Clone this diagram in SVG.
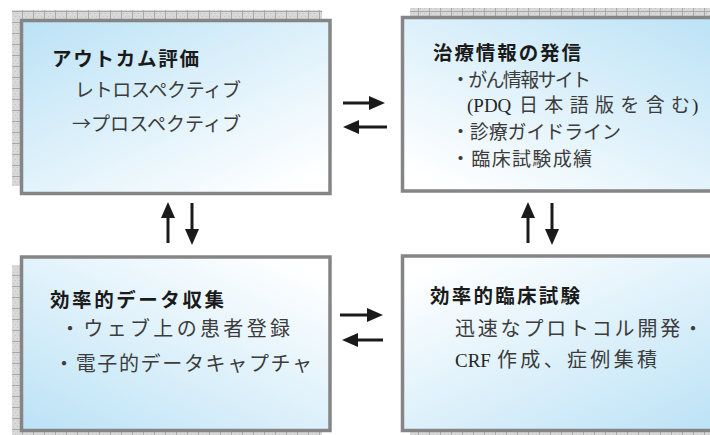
<svg xmlns="http://www.w3.org/2000/svg" width="710" height="435" viewBox="0 0 710 435">
<style>
.box{stroke:#858585;stroke-width:3.5}
.shadow{fill:url(#hatch)}
.hd{font-family:"Noto Sans CJK JP","Noto Sans CJK SC",sans-serif;font-weight:bold;font-size:19.5px;fill:#1a1a1a}
.tx{font-family:"Noto Sans CJK JP","Noto Sans CJK SC",sans-serif;font-size:19px;fill:#3c3c3c}
.tb{font-size:20px}
.lt{font-family:"Liberation Serif",serif;font-size:19px;fill:#262626}
.arr{stroke:#1a1a1a;stroke-width:3;fill:none;marker-end:url(#ah)}
</style>
<defs>
<pattern id="hatch" patternUnits="userSpaceOnUse" width="11" height="11">
<rect width="11" height="11" fill="#d8d8d8"/>
<path d="M2,2h1v1h-1zM6,2h1v1h-1zM4,5h1v1h-1zM8,5h1v1h-1zM2,8h1v1h-1zM6,8h1v1h-1z" fill="#c2c2c2"/>
<path d="M0.5,0V11M0,0.5H11" stroke="#a8a8a8" stroke-width="1"/>
</pattern>
<linearGradient id="g1" x1="0" y1="0" x2="0.85" y2="1"><stop offset="0" stop-color="#bbe2f6"/><stop offset="1" stop-color="#ffffff"/></linearGradient>
<linearGradient id="g2" x1="1" y1="0" x2="0.15" y2="1"><stop offset="0" stop-color="#bbe2f6"/><stop offset="1" stop-color="#ffffff"/></linearGradient>
<linearGradient id="g3" x1="0" y1="1" x2="0.85" y2="0"><stop offset="0" stop-color="#bbe2f6"/><stop offset="1" stop-color="#ffffff"/></linearGradient>
<linearGradient id="g4" x1="1" y1="1" x2="0.15" y2="0"><stop offset="0" stop-color="#bbe2f6"/><stop offset="1" stop-color="#ffffff"/></linearGradient>
<marker id="ah" markerUnits="userSpaceOnUse" markerWidth="16" markerHeight="14" refX="8" refY="7" orient="auto"><path d="M0,0L16,7L0,14z" fill="#1a1a1a"/></marker>
</defs>
<rect width="710" height="435" fill="#ffffff"/>

<g id="node-outcome">
<rect class="shadow" x="12" y="10" width="310" height="176"/>
<rect class="box" x="21.5" y="20.5" width="308.5" height="173" fill="url(#g1)"/>
<text class="hd" x="52" y="66" textLength="147">アウトカム評価</text>
<text class="tx" x="75" y="97" textLength="166">レトロスペクティブ</text>
<text class="tx" x="72" y="131" textLength="169">→プロスペクティブ</text>
</g>

<g id="node-info">
<rect class="shadow" x="410" y="8" width="310" height="176"/>
<rect class="box" x="402.5" y="17.5" width="320" height="173.5" fill="url(#g2)"/>
<text class="hd" x="433" y="60" textLength="148">治療情報の発信</text>
<text class="tx" x="451" y="87" textLength="140">・がん情報サイト</text>
<text class="lt" x="467" y="112">(PDQ</text>
<text class="tx" x="519" y="112" textLength="171">日本語版を含む</text>
<text class="lt" x="692" y="112">)</text>
<text class="tx" x="451" y="139" textLength="170">・診療ガイドライン</text>
<text class="tx" x="451" y="166" textLength="141">・臨床試験成績</text>
</g>

<g id="node-data">
<rect class="shadow" x="12" y="265" width="310" height="175"/>
<rect class="box" x="21.5" y="257" width="308.5" height="173.5" fill="url(#g3)"/>
<text class="hd" x="50" y="307" textLength="174">効率的データ収集</text>
<text class="tx tb" x="60" y="336" textLength="230">・ウェブ上の患者登録</text>
<text class="tx tb" x="54" y="371" textLength="258">・電子的データキャプチャ</text>
</g>

<g id="node-trial">
<rect class="shadow" x="410" y="265" width="310" height="175"/>
<rect class="box" x="402.5" y="256" width="320" height="174.5" fill="url(#g4)"/>
<text class="hd" x="430" y="303" textLength="150">効率的臨床試験</text>
<text class="tx tb" x="455" y="336" textLength="248">迅速なプロトコル開発・</text>
<text class="lt" x="455" y="367">CRF</text>
<text class="tx tb" x="497" y="367" textLength="160">作成、症例集積</text>
</g>

<g id="connectors">
<line class="arr" x1="343" y1="103" x2="377" y2="103"/>
<line class="arr" x1="387" y1="127" x2="351" y2="127"/>
<line class="arr" x1="340" y1="315" x2="375" y2="315"/>
<line class="arr" x1="383" y1="340" x2="350" y2="340"/>
<line class="arr" x1="168" y1="243" x2="168" y2="210"/>
<line class="arr" x1="192" y1="203" x2="192" y2="237"/>
<line class="arr" x1="528" y1="243" x2="528" y2="210"/>
<line class="arr" x1="552" y1="203" x2="552" y2="237"/>
</g>
</svg>
